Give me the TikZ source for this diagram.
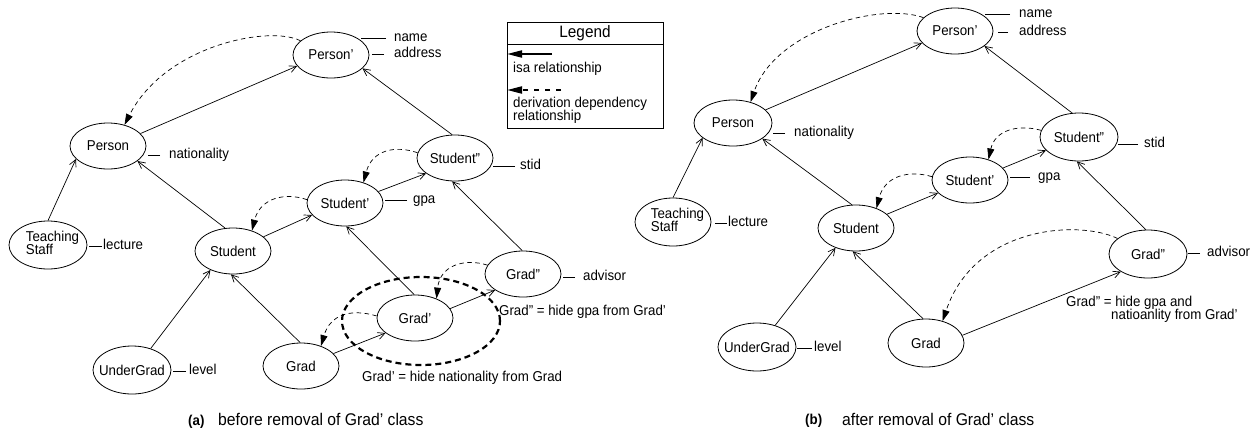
\documentclass[tikz,border=0pt]{standalone}
\usepackage{fontspec}
\setmainfont{Liberation Sans}[FakeStretch=0.93]
\usetikzlibrary{shapes.geometric,arrows.meta}

% attribute label: name, y, line start x, line end x, text x, text
\newcommand\attrlabel[6]{%
  \node[attr] (#1) at (#5,#2) {#6};
  \draw[attrline] (#1.west) ++(#4-#5,0) -- ++(#3-#4,0);}
\newcommand\cname[1]{\makebox[0pt]{#1}}
\newcommand\tstaff{\makebox[0pt]{\hspace*{9pt}\begin{tabular}{@{}l@{}}Teaching\\[-3pt]Staff\end{tabular}}}

\begin{document}
\begin{tikzpicture}[x=1pt,y=-1pt,
  every node/.style={font=\fontsize{14.3}{16}\selectfont},
  cls/.style={ellipse, draw, line width=0.8pt, minimum width=76pt, minimum height=46pt, inner sep=0pt},
  isa/.style={draw, line width=0.7pt, -{Straight Barb[length=7pt,width=7pt,line width=0.7pt]}},
  deriv/.style={draw, line width=0.7pt, dash pattern=on 4.5pt off 3.5pt, -{Triangle[length=11pt,width=7pt]}},
  attr/.style={anchor=west, inner sep=0pt, text height=1.5ex, text depth=0.25ex},
  attrline/.style={draw, line width=0.8pt},
  note/.style={anchor=base west, inner sep=0pt},
  capl/.style={anchor=base west, inner sep=0pt, font=\fontsize{14.3}{16}\selectfont\bfseries},
  capt/.style={anchor=base west, inner sep=0pt, font=\fontsize{16.9}{19}\selectfont},
  hideset/.style={ellipse, draw, line width=2.2pt, dash pattern=on 6pt off 4pt, minimum width=158pt, minimum height=88pt, inner sep=0pt},
  legisa/.style={line width=2pt, -{Triangle[length=15pt,width=7pt]}},
  legderiv/.style={line width=2pt, dash pattern=on 5pt off 6pt, -{Triangle[length=15pt,width=7pt]}},
  legtext/.style={anchor=base west, inner sep=0pt}]
\useasboundingbox (0,0) rectangle (1252,429);

% ---------------- (a) before removal ----------------
\node[cls] (aP1) at (331,55)  {\cname{Person'}};
\node[cls] (aP)  at (108,146) {\cname{Person}};
\node[cls, minimum width=78pt, minimum height=48pt] (aTS) at (48,245) {\tstaff};
\node[cls] (aS2) at (455,158) {\cname{Student''}};
\node[cls] (aS1) at (345,203) {\cname{Student'}};
\node[cls] (aS)  at (233,251) {\cname{Student}};
\node[cls] (aG2) at (523,274) {\cname{Grad''}};
\node[cls] (aG1) at (415,318) {\cname{Grad'}};
\node[cls] (aG)  at (301,366) {\cname{Grad}};
\node[cls, minimum width=78pt, minimum height=48pt] (aUG) at (132,370) {\cname{UnderGrad}};

\node[hideset] (hideG1) at (421,321) {};

\draw[isa] (aP.21)   -- (aP1.198);
\draw[isa] (aTS.90)  -- (aP.202);
\draw[isa] (aS.109)  -- (aP.333);
\draw[isa] (aS.25)   -- (aS1.200);
\draw[isa] (aS1.19)  -- (aS2.208);
\draw[isa] (aS2.97)  -- (aP1.337);
\draw[isa] (aUG.49)  -- (aS.220);
\draw[isa] (aG.92)   -- (aS.265);
\draw[isa] (aG.21)   -- (aG1.207);
\draw[isa] (aG1.92)  -- (aS1.273);
\draw[isa] (aG1.15)  -- (aG2.210);
\draw[isa] (aG2.92)  -- (aS2.263);

\draw[deriv] (aP1.155) .. controls (270,25) and (165,45) .. (aP.52);
\draw[deriv] (aS2.172) .. controls (395,145) and (372,150) .. (aS1.48);
\draw[deriv] (aS1.175) .. controls (285,192) and (260,198) .. (aS.47);
\draw[deriv] (aG2.166) .. controls (465,258) and (440,265) .. (aG1.42);
\draw[deriv] (aG1.177) .. controls (350,308) and (330,315) .. (aG.45);

\attrlabel{aname}{38}{361}{386}{394}{name}
\attrlabel{aaddress}{54}{372}{384}{394}{address}
\attrlabel{anat}{155}{148}{160}{169}{nationality}
\attrlabel{astid}{166}{493}{515}{520}{stid}
\attrlabel{agpa}{200}{385}{407}{413}{gpa}
\attrlabel{aadv}{277}{563}{575}{583}{advisor}
\attrlabel{alect}{246}{89}{102}{103}{lecture}
\attrlabel{alevel}{371}{173}{186}{189}{level}

\node[note] (anoteG2) at (499,315) {Grad'' = hide gpa from Grad'};
\node[note] (anoteG1) at (362,381) {Grad' = hide nationality from Grad};

\node[capl] (acapl) at (188,425) {(a)};
\node[capt] (acapt) at (218,425) {before removal of Grad' class};

% ---------------- legend ----------------
\draw[line width=0.8pt] (507,22) rectangle (663,128);
\draw[line width=0.8pt] (507,44) -- (663,44);
\node[font=\fontsize{16.5}{18}\selectfont] (legtitle) at (585,33) {Legend};
\coordinate (isaFrom) at (552,54);
\coordinate (isaTo) at (507,54);
\draw[legisa] (isaFrom) -- (isaTo);
\node[legtext] (isatxt) at (513,72) {isa relationship};
\coordinate (depFrom) at (561,90);
\coordinate (depTo) at (507,90);
\draw[legderiv] (depFrom) -- (depTo);
\node[legtext] (deptxt1) at (513,107) {derivation dependency};
\node[legtext] (deptxt2) at (513,120) {relationship};

% ---------------- (b) after removal ----------------
\node[cls] (bP1) at (955,31)  {\cname{Person'}};
\node[cls, minimum width=78pt] (bP) at (733,123) {\cname{Person}};
\node[cls, minimum height=48pt] (bTS) at (673,222) {\tstaff};
\node[cls, minimum width=78pt, minimum height=48pt] (bS2) at (1079,137) {\cname{Student''}};
\node[cls] (bS1) at (970,180) {\cname{Student'}};
\node[cls] (bS)  at (856,228) {\cname{Student}};
\node[cls, minimum width=78pt, minimum height=48pt] (bG2) at (1148,254) {\cname{Grad''}};
\node[cls, minimum height=48pt] (bG)  at (926,343) {\cname{Grad}};
\node[cls, minimum width=78pt, minimum height=48pt] (bUG) at (757,347) {\cname{UnderGrad}};

\draw[isa] (bP.22)   -- (bP1.200);
\draw[isa] (bTS.90)  -- (bP.206);
\draw[isa] (bS.100)  -- (bP.332);
\draw[isa] (bS.24)   -- (bS1.202);
\draw[isa] (bS1.20)  -- (bS2.202);
\draw[isa] (bS2.106) -- (bP1.333);
\draw[isa] (bG2.95)  -- (bS2.265);
\draw[isa] (bG.12)   -- (bG2.213);
\draw[isa] (bG.97)   -- (bS.262);
\draw[isa] (bUG.50)  -- (bS.224);

\draw[deriv] (bP1.157) .. controls (880,2) and (775,30) .. (bP.50);
\draw[deriv] (bS2.170) .. controls (1018,124) and (995,130) .. (bS1.48);
\draw[deriv] (bS1.175) .. controls (910,170) and (885,175) .. (bS.44);
\draw[deriv] (bG2.153) .. controls (1080,220) and (975,225) .. (bG.53);

\attrlabel{bname}{14}{985}{1010}{1019}{name}
\attrlabel{baddress}{32}{998}{1008}{1019}{address}
\attrlabel{bnat}{133}{773}{785}{794}{nationality}
\attrlabel{bstid}{144}{1118}{1138}{1144}{stid}
\attrlabel{bgpa}{177}{1010}{1030}{1038}{gpa}
\attrlabel{badv}{253}{1188}{1200}{1207}{advisor}
\attrlabel{blect}{223}{715}{727}{728}{lecture}
\attrlabel{blevel}{348}{797}{812}{814}{level}

\node[note] (bnote1) at (1066,306) {Grad'' = hide gpa and};
\node[note] (bnote2) at (1111,319) {natioanlity from Grad'};

\node[capl] (bcapl) at (805,424) {(b)};
\node[capt] (bcapt) at (842,425) {after removal of Grad' class};
\end{tikzpicture}
\end{document}
